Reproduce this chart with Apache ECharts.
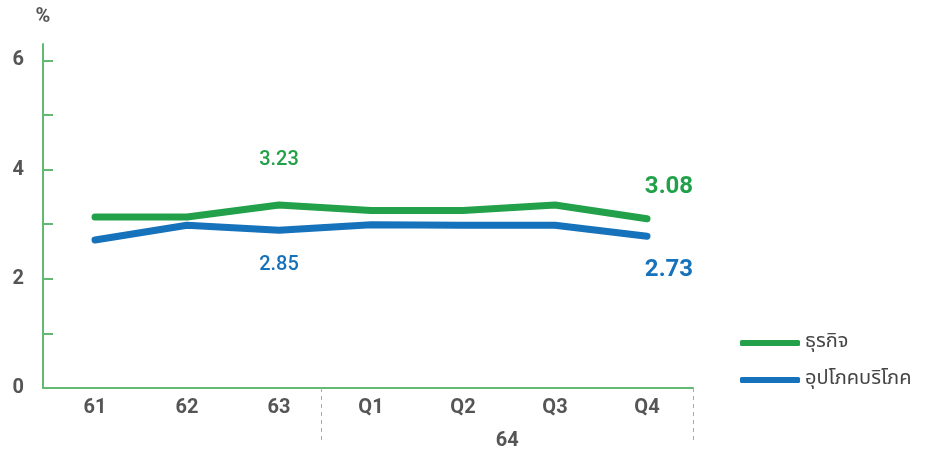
<!DOCTYPE html>
<html>
<head>
<meta charset="utf-8">
<script src="https://cdn.jsdelivr.net/npm/echarts@6/dist/echarts.min.js"></script>
<style>
  html, body { margin: 0; padding: 0; background: #fff; }
  #chart { width: 925px; height: 454px; }
</style>
</head>
<body>
<div id="chart"></div>
<script>
// data
const periods = ['61', '62', '63', 'Q1', 'Q2', 'Q3', 'Q4'];
const spanLabels = ['', '', '', '', '', '64', '', '']; // boundaries under the quarters
const businessValues = [3.13, 3.13, 3.35, 3.25, 3.25, 3.35, 3.10];
const consumerValues = [2.71, 2.98, 2.89, 2.99, 2.98, 2.98, 2.78];
const businessNotes = ['', '', '3.23', '', '', '', '3.08'];
const consumerNotes = ['', '', '2.85', '', '', '', '2.73'];
const yTicks = [1, 2, 3, 4, 5, 6];
const yLabels = [0, 2, 4, 6];

const GREEN = '#22a14a';
const BLUE = '#1672bb';
const AXIS = '#63b874';
const TEXT = '#555';
const FONT = 'Roboto, "Noto Sans", sans-serif';
const THAI_FONT = '"Noto Sans Thai", "Noto Sans", Roboto, sans-serif';

// label style per point: middle notes small, last notes big and shifted right
function noteLabel(text, i, color, above) {
  if (!text) return { show: false };
  const last = i === periods.length - 1;
  return {
    show: true,
    formatter: text,
    position: above ? 'top' : 'bottom',
    distance: last ? (above ? 20 : 22) : (above ? 35 : 25),
    offset: last ? [22, 0] : [0, 0],
    color: color,
    fontFamily: FONT,
    fontSize: last ? 24 : 20,
    fontWeight: last ? 'bold' : 500
  };
}

const chart = echarts.init(document.getElementById('chart'), null, { renderer: 'canvas' });

chart.setOption({
  animation: false,
  backgroundColor: '#fff',
  grid: [
    { left: 49, right: 232, top: 44, bottom: 66 },
    { left: 43, right: 232, top: 44, bottom: 66 }
  ],
  legend: {
    orient: 'vertical',
    left: 735,
    top: 328,
    itemWidth: 60,
    itemHeight: 6,
    itemGap: 17,
    icon: 'roundRect',
    textStyle: { fontFamily: THAI_FONT, fontSize: 20, color: '#444' },
    data: ['ธุรกิจ', 'อุปโภคบริโภค']
  },
  xAxis: [
    {
      gridIndex: 0,
      type: 'category',
      data: periods,
      boundaryGap: true,
      axisLine: { show: false },
      axisTick: { show: false },
      axisLabel: { margin: 10, color: TEXT, fontFamily: FONT, fontSize: 20, fontWeight: 'bold' }
    },
    {
      gridIndex: 1,
      type: 'category',
      data: spanLabels,
      boundaryGap: false,
      axisLine: { show: true, lineStyle: { color: AXIS, width: 2 } },
      axisTick: {
        show: true,
        interval: (i) => i === 3 || i === 7,
        length: 55,
        lineStyle: { color: '#aaa', width: 1, type: [4, 4] }
      },
      axisLabel: { interval: 0, margin: 43, color: TEXT, fontFamily: FONT, fontSize: 20, fontWeight: 'bold' },
      splitLine: { show: false }
    }
  ],
  yAxis: [
    {
      gridIndex: 0,
      type: 'value',
      min: 0,
      max: 6.3,
      interval: 1,
      offset: 6,
      name: '%',
      nameLocation: 'end',
      nameGap: 17,
      nameTextStyle: { color: TEXT, fontFamily: FONT, fontSize: 20, fontWeight: 'bold' },
      axisLine: { show: true, lineStyle: { color: AXIS, width: 2 } },
      axisTick: { show: true, inside: true, length: 10, customValues: yTicks, lineStyle: { color: AXIS, width: 2 } },
      axisLabel: { customValues: yLabels, margin: 19, color: TEXT, fontFamily: FONT, fontSize: 20, fontWeight: 'bold' },
      splitLine: { show: false }
    },
    {
      gridIndex: 1,
      type: 'value',
      min: 0,
      max: 6.3,
      show: false
    }
  ],
  series: [
    {
      name: 'ธุรกิจ',
      type: 'line',
      xAxisIndex: 0,
      yAxisIndex: 0,
      color: GREEN,
      showSymbol: true,
      symbol: 'circle',
      symbolSize: 0.1,
      lineStyle: { width: 7, cap: 'round', join: 'round' },
      data: businessValues.map((v, i) => ({ value: v, label: noteLabel(businessNotes[i], i, GREEN, true) }))
    },
    {
      name: 'อุปโภคบริโภค',
      type: 'line',
      xAxisIndex: 0,
      yAxisIndex: 0,
      color: BLUE,
      showSymbol: true,
      symbol: 'circle',
      symbolSize: 0.1,
      lineStyle: { width: 7, cap: 'round', join: 'round' },
      data: consumerValues.map((v, i) => ({ value: v, label: noteLabel(consumerNotes[i], i, BLUE, false) }))
    }
  ]
});
</script>
</body>
</html>
